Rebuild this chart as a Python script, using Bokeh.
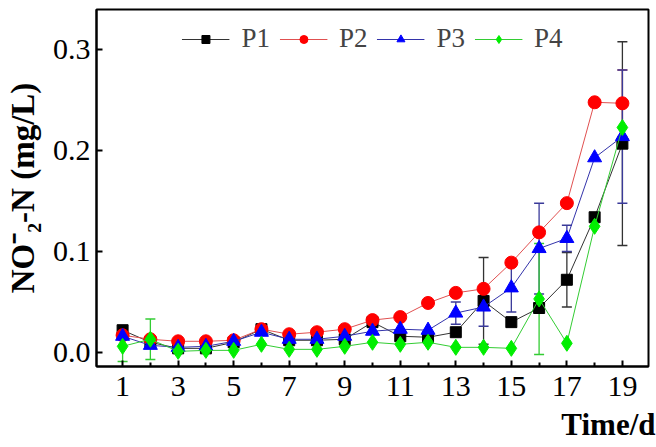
from bokeh.plotting import figure
from bokeh.models import (ColumnDataSource, Whisker, TeeHead, FixedTicker, PrintfTickFormatter,
                          Legend, LegendItem, Range1d, Title)
from bokeh.embed import file_html
from bokeh.resources import INLINE

days = list(range(1, 20))
p1 = [0.022, 0.010, 0.004, 0.004, 0.010, 0.023, 0.012, 0.012, 0.013, 0.030, 0.016, 0.015, 0.020, 0.051, 0.030, 0.044, 0.072, 0.134, 0.207]
p2 = [0.017, 0.013, 0.011, 0.011, 0.012, 0.023, 0.018, 0.020, 0.023, 0.032, 0.035, 0.049, 0.059, 0.063, 0.089, 0.119, 0.148, 0.248, 0.247]
p3 = [0.016, 0.007, 0.005, 0.006, 0.011, 0.020, 0.013, 0.013, 0.016, 0.021, 0.023, 0.022, 0.039, 0.045, 0.064, 0.103, 0.113, 0.193, 0.214]
p4 = [0.006, 0.013, 0.001, 0.002, 0.002, 0.008, 0.003, 0.003, 0.006, 0.010, 0.008, 0.010, 0.005, 0.005, 0.004, 0.053, 0.009, 0.125, 0.223]
p1_err = [0, 0, 0, 0, 0, 0, 0, 0, 0, 0, 0, 0, 0, 0.043, 0, 0, 0.027, 0, 0.101]
p2_err = [0, 0, 0, 0, 0, 0, 0, 0, 0, 0, 0, 0, 0, 0, 0, 0, 0, 0, 0.033]
p3_err = [0, 0, 0, 0, 0, 0, 0, 0, 0, 0, 0, 0, 0.011, 0.019, 0.024, 0.045, 0.013, 0, 0.066]
p4_err = [0.015, 0.020, 0, 0, 0, 0, 0, 0, 0, 0, 0, 0, 0, 0, 0, 0.055, 0, 0, 0]
x_major = [1, 3, 5, 7, 9, 11, 13, 15, 17, 19]
x_minor = [2, 4, 6, 8, 10, 12, 14, 16, 18]
y_major = [0.0, 0.1, 0.2, 0.3]
names = ["P1", "P2", "P3", "P4"]
x_title = "Time/d"
y_title = "NO\u207b\u2082-N (mg/L)"

SERIF = "Liberation Serif"

p = figure(width=656, height=447, x_range=Range1d(0.06, 19.94), y_range=Range1d(-0.014, 0.34),
           output_backend="svg", toolbar_location=None,
           min_border_left=96, min_border_right=8, min_border_top=9, min_border_bottom=80)
p.xgrid.visible = False
p.ygrid.visible = False
p.outline_line_color = "black"
p.outline_line_width = 2
p.background_fill_color = "white"
p.border_fill_color = "white"

for ax in (p.xaxis[0], p.yaxis[0]):
    ax.axis_line_width = 2
    ax.axis_line_color = "black"
    ax.major_tick_in = 6
    ax.major_tick_out = 0
    ax.minor_tick_in = 4
    ax.minor_tick_out = 0
    ax.major_tick_line_width = 2
    ax.minor_tick_line_width = 2
    ax.major_label_text_font = SERIF
    ax.major_label_text_font_size = "30px"
    ax.major_label_text_color = "black"
    ax.axis_label_text_font = SERIF
    ax.axis_label_text_font_style = "bold"
    ax.axis_label_text_color = "black"

p.xaxis.ticker = FixedTicker(ticks=x_major, minor_ticks=x_minor)
p.xaxis.major_label_standoff = 10
p.yaxis.ticker = FixedTicker(ticks=y_major, minor_ticks=[])
p.yaxis.formatter = PrintfTickFormatter(format="%.1f")
p.yaxis.major_label_standoff = 6
p.yaxis.axis_label = y_title
p.yaxis.axis_label_standoff = 9
p.yaxis.axis_label_text_font_size = "33px"

xt = Title(text=x_title, align="right", offset=-7, standoff=12,
           text_font=SERIF, text_font_style="bold", text_font_size="31px", text_color="black")
p.add_layout(xt, "below")

series = [
    (p1, p1_err, "black", "#333333", "#333333", "square", 11),
    (p2, p2_err, "#FF0000", "#E05050", "#CC4444", "circle", 13),
    (p3, p3_err, "#0000FF", "#3333AA", "#3A3A99", "triangle", 14),
    (p4, p4_err, "#00EE00", "#33CC33", "#33CC33", "diamond", 16),
]

for vals, errs, mcol, lcol, wcol, mk, sz in series:
    xs = [d for d, e in zip(days, errs) if e > 0]
    ups = [v + e for v, e in zip(vals, errs) if e > 0]
    los = [v - e for v, e in zip(vals, errs) if e > 0]
    if xs:
        src = ColumnDataSource(dict(x=xs, upper=ups, lower=los))
        w = Whisker(source=src, base="x", upper="upper", lower="lower", level="underlay",
                    line_color=wcol, line_width=1.3,
                    upper_head=TeeHead(size=10, line_color=wcol, line_width=1.5),
                    lower_head=TeeHead(size=10, line_color=wcol, line_width=1.5))
        p.add_layout(w)

items = []
for (vals, errs, mcol, lcol, wcol, mk, sz), nm in zip(series, names):
    src = ColumnDataSource(dict(x=days, y=vals))
    ln = p.line("x", "y", source=src, line_color=lcol, line_width=1)
    sc = p.scatter("x", "y", source=src, marker=mk, size=sz, fill_color=mcol, line_color=mcol)
    items.append(LegendItem(label=nm, renderers=[ln, sc]))

legend = Legend(items=items, location="top_center", orientation="horizontal",
                label_text_font=SERIF, label_text_font_size="27px",
                glyph_width=48, glyph_height=20, label_standoff=12, spacing=9,
                padding=4, margin=10, background_fill_alpha=0, border_line_alpha=0)
p.add_layout(legend, "center")

open("out.html", "w").write(file_html(p, INLINE))
